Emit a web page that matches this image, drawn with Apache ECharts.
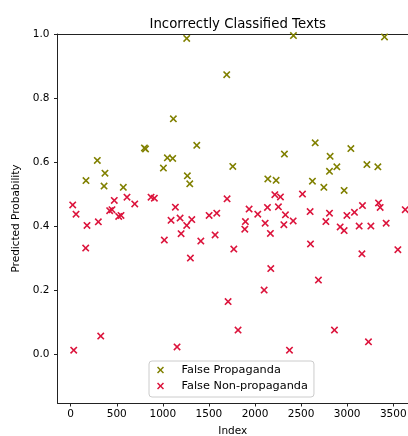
<!DOCTYPE html>
<html>
<head>
<meta charset="utf-8">
<script src="https://cdn.jsdelivr.net/npm/echarts@6/dist/echarts.min.js"></script>
<style>
html,body{margin:0;padding:0;background:#fff;}
#chart{width:408px;height:436px;}
</style>
</head>
<body>
<div id="chart"></div>
<script>
// Data
const propagandaX = [1259,1693,1114,800,812,1368,289,1049,1107,372,166,1006,1266,362,571,1292,1759,
  2417,3405,2653,2319,3040,2815,2808,2888,3214,3333,2139,2229,2623,2747,2967];
const propagandaY = [0.986,0.873,0.735,0.644,0.641,0.652,0.605,0.613,0.611,0.565,0.542,0.581,0.557,0.525,0.521,0.532,0.586,
  0.995,0.991,0.660,0.625,0.642,0.618,0.571,0.585,0.592,0.585,0.547,0.543,0.540,0.521,0.511];

const nonPropX = [22,58,177,300,163,473,423,448,611,695,521,546,
  872,908,1697,1136,1089,1187,1314,1259,1502,1585,1198,1016,1412,1567,1770,
  2215,2276,2515,1936,2030,2135,2254,2330,2414,2313,2110,1896,1889,2167,2598,2602,
  2808,2769,2997,3079,3166,3340,3358,3630,2924,2967,3130,3257,3423,3550,3160,
  1299,1708,326,33,1154,
  2171,2099,2688,1816,2862,3231,2374];
const nonPropY = [0.466,0.437,0.402,0.413,0.331,0.480,0.448,0.451,0.490,0.469,0.430,0.433,
  0.490,0.487,0.485,0.459,0.418,0.425,0.420,0.402,0.433,0.440,0.376,0.356,0.353,0.372,0.328,
  0.498,0.491,0.500,0.453,0.437,0.458,0.460,0.435,0.416,0.404,0.409,0.414,0.390,0.377,0.445,0.344,
  0.440,0.414,0.433,0.443,0.464,0.472,0.458,0.451,0.397,0.386,0.400,0.400,0.409,0.326,0.313,
  0.300,0.164,0.056,0.012,0.022,
  0.267,0.200,0.231,0.075,0.075,0.038,0.012];

const xTicks = [0,500,1000,1500,2000,2500,3000,3500];
const yTicks = [0.0,0.2,0.4,0.6,0.8,1.0];
const seriesNames = ['False Propaganda','False Non-propaganda'];

const X_SYMBOL = 'path://M0,1.5L1.5,0L5,3.5L8.5,0L10,1.5L6.5,5L10,8.5L8.5,10L5,6.5L1.5,10L0,8.5L3.5,5Z';
const FONT = 'DejaVu Sans';

const zip = (xs, ys) => xs.map((x, i) => [x, ys[i]]);

const chart = echarts.init(document.getElementById('chart'), null, {renderer: 'canvas'});
const axisLineStyle = {color: '#222', width: 1};
chart.setOption({
  animation: false,
  backgroundColor: '#fff',
  title: {
    text: 'Incorrectly Classified Texts',
    left: 232.7,
    textAlign: 'center',
    top: 13,
    textStyle: {fontFamily: FONT, fontSize: 13.3, fontWeight: 'normal', color: '#000'}
  },
  grid: {left: 57.5, right: 0, top: 34, bottom: 33, containLabel: false, outerBoundsMode: 'none'},
  legend: {
    orient: 'vertical',
    left: 149,
    top: 361,
    padding: [3, 6, 5, 8],
    itemGap: 4,
    itemWidth: 14,
    itemHeight: 7,
    backgroundColor: 'rgba(255,255,255,0.8)',
    borderColor: '#cccccc',
    borderWidth: 1,
    borderRadius: 3,
    textStyle: {fontFamily: FONT, fontSize: 11.3, color: '#000', lineHeight: 12, padding: [0, 0, 0, 9]},
    data: seriesNames.map(n => ({name: n, icon: X_SYMBOL}))
  },
  xAxis: [{
    type: 'value',
    min: -143,
    max: 3660,
    name: 'Index',
    nameLocation: 'middle',
    nameGap: 23,
    nameTextStyle: {fontFamily: FONT, fontSize: 10.5, color: '#000'},
    axisLine: {show: true, onZero: false, lineStyle: axisLineStyle},
    axisTick: {show: true, length: 3.5, lineStyle: axisLineStyle, customValues: xTicks},
    axisLabel: {fontFamily: FONT, fontSize: 10.5, color: '#000', margin: 6, customValues: xTicks,
      formatter: v => String(Math.round(v))},
    splitLine: {show: false}
  }, {
    type: 'value',
    position: 'top',
    min: -143,
    max: 3660,
    axisLine: {show: true, onZero: false, lineStyle: axisLineStyle},
    axisTick: {show: false},
    axisLabel: {show: false},
    splitLine: {show: false}
  }],
  yAxis: {
    type: 'value',
    min: -0.153,
    max: 1.0,
    name: 'Predicted Probability',
    nameLocation: 'middle',
    nameGap: 31,
    nameTextStyle: {fontFamily: FONT, fontSize: 10.5, color: '#000'},
    axisLine: {show: true, onZero: false, lineStyle: axisLineStyle},
    axisTick: {show: true, length: 3.5, lineStyle: axisLineStyle, customValues: yTicks},
    axisLabel: {fontFamily: FONT, fontSize: 10.5, color: '#000', margin: 8, customValues: yTicks,
      formatter: v => v.toFixed(1)},
    splitLine: {show: false}
  },
  series: [{
    name: seriesNames[0],
    type: 'scatter',
    symbol: X_SYMBOL,
    symbolSize: 7.5,
    itemStyle: {color: '#808000', opacity: 1},
    data: zip(propagandaX, propagandaY)
  }, {
    name: seriesNames[1],
    type: 'scatter',
    symbol: X_SYMBOL,
    symbolSize: 7.5,
    itemStyle: {color: '#DC143C', opacity: 1},
    data: zip(nonPropX, nonPropY)
  }]
});
</script>
</body>
</html>
